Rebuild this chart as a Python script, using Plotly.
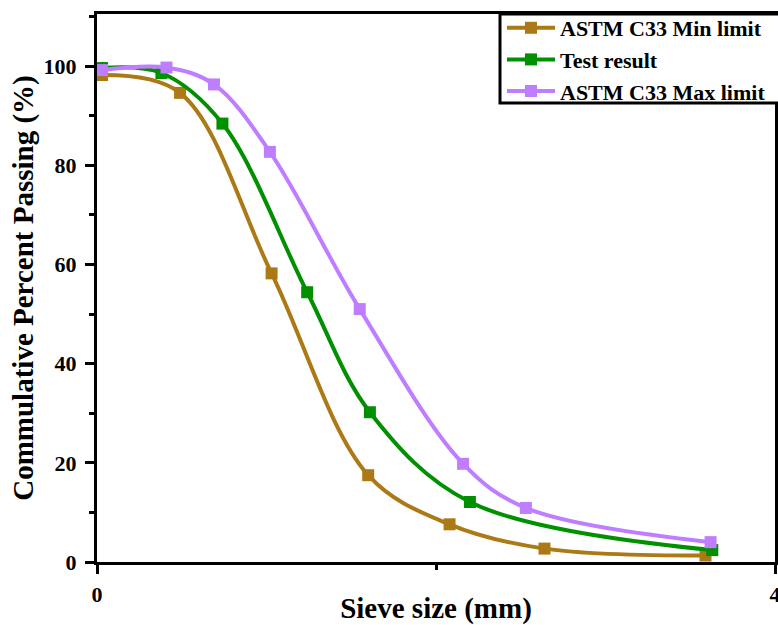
import plotly.graph_objects as go

# Sieve analysis: cumulative percent passing vs sieve size
x_min = [0.03, 0.49, 1.03, 1.60, 2.08, 2.64, 3.59]
y_min = [98.2, 94.6, 58.2, 17.5, 7.6, 2.7, 1.3]

x_test = [0.03, 0.38, 0.74, 1.24, 1.61, 2.20, 3.63]
y_test = [99.6, 98.6, 88.4, 54.4, 30.2, 12.1, 2.4]

x_max = [0.03, 0.41, 0.69, 1.02, 1.55, 2.16, 2.53, 3.62]
y_max = [99.2, 99.7, 96.3, 82.7, 51.0, 19.8, 10.9, 4.0]

names = ["ASTM C33 Min limit", "Test result", "ASTM C33 Max limit"]
colors = ["#AB7A16", "#009000", "#BF7DFF"]

font_family = "Liberation Serif"

W, H = 778, 625
ML, MR, MT, MB = 97, 3, 14, 63
PW, PH = W - ML - MR, H - MT - MB


def px_x(p):
    return (p - ML) / PW


def px_y(p):
    return (H - MB - p) / PH


fig = go.Figure()
for xs, ys, name, col in zip([x_min, x_test, x_max], [y_min, y_test, y_max], names, colors):
    fig.add_trace(go.Scatter(
        x=xs, y=ys, name=name, mode="lines+markers",
        line=dict(color=col, width=4, shape="spline", smoothing=1.0),
        marker=dict(symbol="square", size=12, color=col),
        cliponaxis=True,
    ))

# legend frame, flush with the top of the plot and running off the right edge
fig.add_shape(type="rect", xref="paper", yref="paper",
              x0=px_x(500), x1=px_x(800), y0=px_y(103), y1=px_y(14),
              line=dict(color="black", width=3), fillcolor="white", layer="above")

fig.update_layout(
    width=W, height=H,
    margin=dict(l=ML, r=MR, t=MT, b=MB, autoexpand=False),
    plot_bgcolor="white", paper_bgcolor="white",
    font=dict(family=font_family, color="black"),
    showlegend=True,
    legend=dict(
        x=px_x(502), y=px_y(7), xanchor="left", yanchor="top",
        bgcolor="rgba(0,0,0,0)", borderwidth=0,
        font=dict(family=font_family, size=22, color="black", weight="bold"),
        tracegroupgap=0, itemwidth=48,
    ),
    xaxis=dict(
        range=[0, 4], dtick=4, tick0=0,
        showgrid=False, zeroline=False,
        showline=True, linecolor="black", linewidth=3, mirror=True,
        ticks="outside", ticklen=9, tickwidth=3, tickcolor="black",
        minor=dict(dtick=2, ticks="outside", ticklen=5, tickwidth=3, tickcolor="black"),
        ticklabelstandoff=2, ticklabeloverflow="allow",
        tickfont=dict(family=font_family, size=22, color="black", weight="bold"),
        title=dict(text="Sieve size (mm)", standoff=0,
                   font=dict(family=font_family, size=29, color="black", weight="bold")),
    ),
    yaxis=dict(
        range=[0, 110.5], dtick=20, tick0=0,
        showgrid=False, zeroline=False,
        showline=True, linecolor="black", linewidth=3, mirror=True,
        ticks="outside", ticklen=9, tickwidth=3, tickcolor="black",
        minor=dict(dtick=10, ticks="outside", ticklen=5, tickwidth=3, tickcolor="black"),
        ticklabelstandoff=4,
        tickfont=dict(family=font_family, size=22, color="black", weight="bold"),
        title=dict(text="Commulative Percent Passing (%)", standoff=2,
                   font=dict(family=font_family, size=29, color="black", weight="bold")),
    ),
)

fig.write_html("out.html")
